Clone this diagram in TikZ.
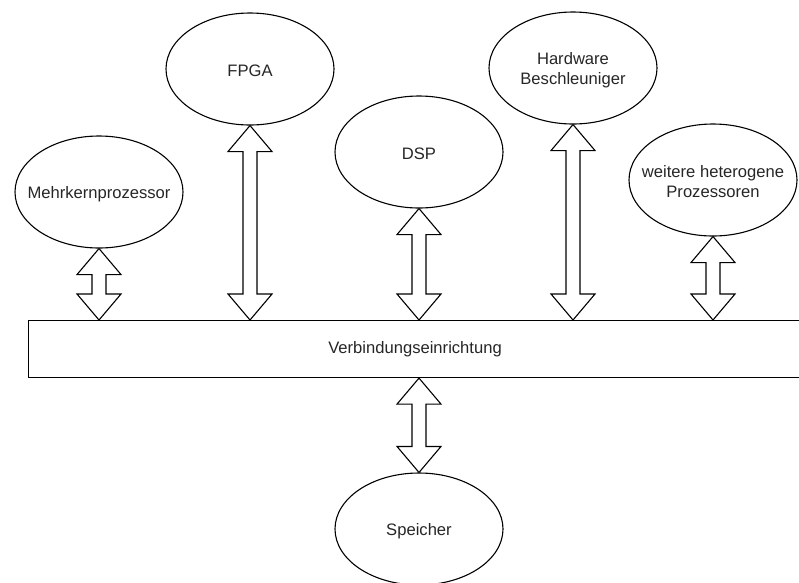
\documentclass[tikz,border=0pt]{standalone}
\usepackage{fontspec}
\setmainfont{Liberation Sans}
\usetikzlibrary{shapes.geometric,calc}
\tikzset{
  proc/.style={draw, ellipse, line width=1.1pt, minimum width=168pt,
    minimum height=112pt, inner sep=0pt},
  txt/.style={font=\fontsize{16.6}{20}\selectfont, align=center, text=black!85, yshift=-2pt},
  busbox/.style={draw, line width=1.1pt, minimum width=773pt, minimum height=57pt,
    inner sep=0pt, anchor=north west, font=\fontsize{16.6}{20}\selectfont, text=black!85},
  flex/.style={draw, line width=1.1pt, fill=white, line join=miter}
}
% hollow double-headed arrow between two points on one vertical line
\newcommand\flexlink[2]{%
  \draw[flex] let \p1=(#1), \p2=(#2) in
    (\p1) -- ({\x1+22pt},{\y1-26pt}) -- ({\x1+7pt},{\y1-26pt})
    -- ({\x1+7pt},{\y2+26pt}) -- ({\x1+22pt},{\y2+26pt}) -- (\x1,\y2)
    -- ({\x1-22pt},{\y2+26pt}) -- ({\x1-7pt},{\y2+26pt})
    -- ({\x1-7pt},{\y1-26pt}) -- ({\x1-22pt},{\y1-26pt}) -- cycle;}
\begin{document}
\begin{tikzpicture}[x=1pt,y=-1pt]
\useasboundingbox (0,0) rectangle (799,582);

% interconnect
\node[busbox] (bus) at (28,320) {Verbindungseinrichtung};

% processing units and memory
\node[proc, label={[txt]center:Mehrkernprozessor}] (mk) at (99,192) {};
\node[proc, label={[txt]center:FPGA}] (fpga) at (250,69) {};
\node[proc, label={[txt]center:DSP}] (dsp) at (419,152) {};
\node[proc, label={[txt]center:{Hardware\\Beschleuniger}}] (hw) at (573,68) {};
\node[proc, label={[txt]center:{weitere heterogene\\Prozessoren}}] (wh) at (713,180) {};
\node[proc, label={[txt]center:Speicher}] (sp) at (419,529) {};

% connections to the interconnect
\flexlink{mk.south}{bus.north -| mk.south}
\flexlink{fpga.south}{bus.north -| fpga.south}
\flexlink{dsp.south}{bus.north -| dsp.south}
\flexlink{hw.south}{bus.north -| hw.south}
\flexlink{wh.south}{bus.north -| wh.south}
\flexlink{bus.south -| sp.north}{sp.north}
\end{tikzpicture}
\end{document}
